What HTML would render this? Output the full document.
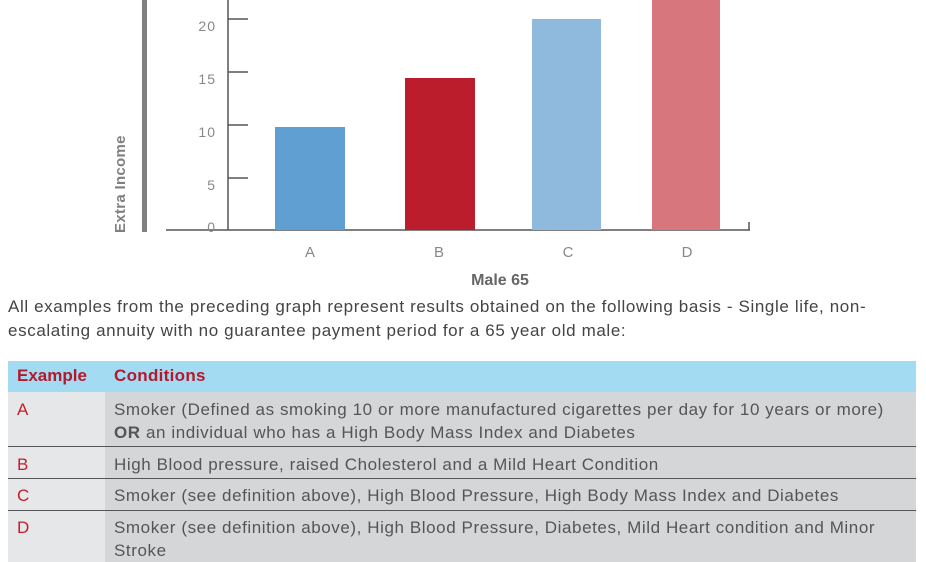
<!DOCTYPE html>
<html><head><style>
body{margin:0;width:926px;height:562px;background:#fff;font-family:"Liberation Sans",sans-serif;overflow:hidden;position:relative}
.a{position:absolute}
.para{position:absolute;left:8px;top:295px;font-size:17px;line-height:24px;color:#444;letter-spacing:0.62px;white-space:nowrap}
.c1{position:absolute;left:8px;width:97px;background:#e6e7e9;color:#c41e2e;font-size:17px}
.c2{position:absolute;left:105px;width:811px;background:#d5d6d8;color:#555;font-size:17px;letter-spacing:0.58px;white-space:nowrap}
.c1 span,.c2 span{position:absolute;left:9px;line-height:23px}
.ln{position:absolute;left:8px;width:908px;height:1px;background:#555}
</style></head><body>
<svg class="a" style="left:0;top:0" width="926" height="290">
<rect x="142" y="0" width="5" height="232" fill="#808080"/>
<line x1="228" y1="0" x2="228" y2="230" stroke="#555" stroke-width="1.5"/>
<g stroke="#555" stroke-width="1.5">
<line x1="228" y1="19" x2="248" y2="19"/><line x1="228" y1="72" x2="248" y2="72"/>
<line x1="228" y1="125" x2="248" y2="125"/><line x1="228" y1="178" x2="248" y2="178"/>
<line x1="166" y1="230" x2="750" y2="230"/><line x1="749" y1="222" x2="749" y2="230"/>
</g>
<g fill="#888" font-size="14" text-anchor="end" font-family="Liberation Sans" letter-spacing="1">
<text x="216" y="31">20</text><text x="216" y="84">15</text><text x="216" y="137">10</text><text x="216" y="190">5</text><text x="216" y="232">0</text>
</g>
<rect x="275" y="127" width="70" height="103" fill="#609fd1"/>
<rect x="405" y="78" width="70" height="152" fill="#bb1d2c"/>
<rect x="532" y="19" width="69" height="211" fill="#8fbade"/>
<rect x="652" y="0" width="68" height="230" fill="#d8767d"/>
<g fill="#888" font-size="15" text-anchor="middle" font-family="Liberation Sans">
<text x="310" y="257">A</text><text x="439" y="257">B</text><text x="568" y="257">C</text><text x="687" y="257">D</text>
</g>
<text x="500" y="285" text-anchor="middle" font-size="16" font-weight="bold" fill="#666" font-family="Liberation Sans">Male 65</text>
<text transform="translate(125,233) rotate(-90)" font-size="15" font-weight="bold" fill="#808080" font-family="Liberation Sans" letter-spacing="0.3">Extra Income</text>
</svg>
<div class="para">All examples from the preceding graph represent results obtained on the following basis - Single life, non-<br>escalating annuity with no guarantee payment period for a 65 year old male:</div>
<div class="a" style="left:8px;top:361px;width:908px;height:31px;background:#a3dbf2;color:#b5192b;font-weight:bold;font-size:17px">
<span class="a" style="left:9px;top:5px">Example</span><span class="a" style="left:106px;top:5px;letter-spacing:0.3px">Conditions</span></div>
<div class="c1" style="top:392px;height:54px"><span style="top:6px">A</span></div>
<div class="c2" style="top:392px;height:54px"><span style="top:6px">Smoker (Defined as smoking 10 or more manufactured cigarettes per day for 10 years or more)<br><b>OR</b> an individual who has a High Body Mass Index and Diabetes</span></div>
<div class="ln" style="top:446px"></div>
<div class="c1" style="top:447px;height:31px"><span style="top:6px">B</span></div>
<div class="c2" style="top:447px;height:31px"><span style="top:6px">High Blood pressure, raised Cholesterol and a Mild Heart Condition</span></div>
<div class="ln" style="top:478px"></div>
<div class="c1" style="top:479px;height:31px"><span style="top:5px">C</span></div>
<div class="c2" style="top:479px;height:31px"><span style="top:5px">Smoker (see definition above), High Blood Pressure, High Body Mass Index and Diabetes</span></div>
<div class="ln" style="top:510px"></div>
<div class="c1" style="top:511px;height:51px"><span style="top:5px">D</span></div>
<div class="c2" style="top:511px;height:51px"><span style="top:5px">Smoker (see definition above), High Blood Pressure, Diabetes, Mild Heart condition and Minor<br>Stroke</span></div>
</body></html>
